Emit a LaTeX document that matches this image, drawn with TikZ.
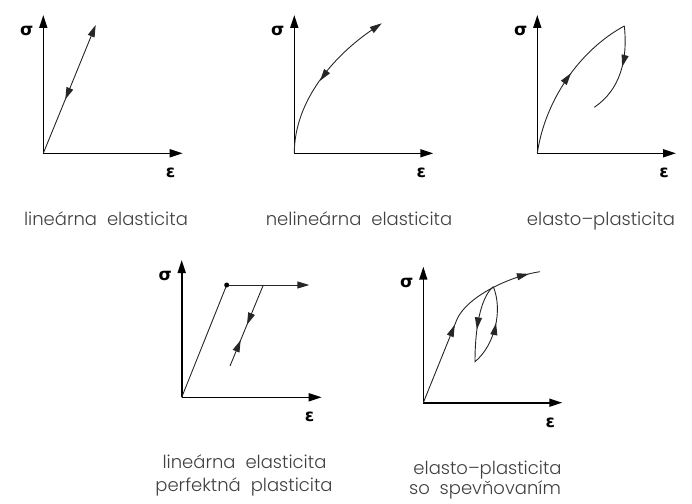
\documentclass[tikz,border=0pt]{standalone}
\usepackage{fontspec}
\setmainfont{Poppins Light}
\newfontfamily\greekfont{DejaVu Sans}
\usetikzlibrary{arrows.meta,decorations.markings}
\tikzset{curve/.style={draw=black!85, line width=0.9pt}}

\begin{document}
\begin{tikzpicture}[x=1pt, y=-1pt,
    axis/.style={draw=black, line width=1.6pt, -{Triangle[length=13pt,width=8pt]}},
    tip/.style={-{Triangle[length=12pt,width=7pt]}},
    fwd/.style={postaction={decorate,decoration={markings,
      mark=at position #1 with {\arrow{Triangle[length=12pt,width=7pt]}}}}},
    bwd/.style={postaction={decorate,decoration={markings,
      mark=at position #1 with {\arrowreversed{Triangle[length=12pt,width=7pt]}}}}},
    sym/.style={font=\greekfont\bfseries\fontsize{17}{17}\selectfont},
    lbl/.style={font=\fontsize{18}{22}\selectfont, text=black!75, anchor=base, inner sep=0pt}]
  \useasboundingbox (0,0) rectangle (692,503);
  % axes of the five panels: name/origin x/origin y/end of eps axis/end of sigma axis
  \foreach \n/\ox/\oy/\ex/\ty in {a/43.3/153.3/182.7/15, b/294.3/153.3/433.3/15,
      c/537.3/153.3/676/15, d/181.7/397.3/321.7/260, e/423.3/402.7/562.3/266.7}{%
    \coordinate (o\n) at (\ox,\oy); \coordinate (s\n) at (\ox,\ty); \coordinate (e\n) at (\ex,\oy);
    \draw[axis] (o\n) -- (s\n); \draw[axis] (o\n) -- (e\n);
    \node[sym] (sig\n) at ({\ox-16.5},{\ty+16}) {σ};
    \node[sym] (eps\n) at ({\ex-12},{\oy+20}) {ε};}
  % linear elasticity
  \coordinate (a1) at (95.7,25);
  \draw[curve, tip, bwd=0.42] (oa) -- (a1);
  % nonlinear elasticity
  \coordinate (b1) at (381.7,23.3);
  \draw[curve, tip, bwd=0.48] (ob) .. controls (294.3,100) and (335,55) .. (b1);
  % elasto-plasticity
  \coordinate (c1) at (624.3,26); \coordinate (c2) at (594.3,107.3);
  \draw[curve, fwd=0.55] (oc) .. controls (545,100) and (580,50) .. (c1);
  \draw[curve, fwd=0.45] (c1) .. controls (628,60) and (620,90) .. (c2);
  % perfect plasticity
  \coordinate (dy) at (226.7,285); \coordinate (dh) at (309.3,285);
  \coordinate (du) at (263.3,285); \coordinate (dl) at (230,366);
  \draw[curve] (od) -- (dy);
  \draw[curve, tip] (dy) -- (dh);
  \fill (dy) circle (2.5);
  \draw[curve, fwd=0.49, bwd=0.68] (du) -- (dl);
  % hardening
  \coordinate (ek) at (456.7,320); \coordinate (ee) at (540,271.7);
  \coordinate (el) at (493.3,286.7); \coordinate (eb) at (475,361.7);
  \draw[curve, fwd=84pt, fwd=0.94] (oe) -- (ek) .. controls (466,297) and (510,276) .. (ee);
  \draw[curve, fwd=0.29, fwd=0.77] (el) .. controls (483,295) and (475,320) .. (eb)
    .. controls (495,345) and (503,310) .. (el);
  % captions
  \node[lbl] (la) at (106,225) {lineárna\ \ elasticita};
  \node[lbl] (lb) at (359,225) {nelineárna\ \ elasticita};
  \node[lbl] (lc) at (601,225) {elasto–plasticita};
  \node[lbl] (ld1) at (244.5,468) {lineárna\ \ elasticita};
  \node[lbl] (ld2) at (244,491.5) {perfektná\ \ plasticita};
  \node[lbl] (le1) at (487.5,474) {elasto–plasticita};
  \node[lbl] (le2) at (485,494) {so\ \ spevňovaním};
\end{tikzpicture}
\end{document}
